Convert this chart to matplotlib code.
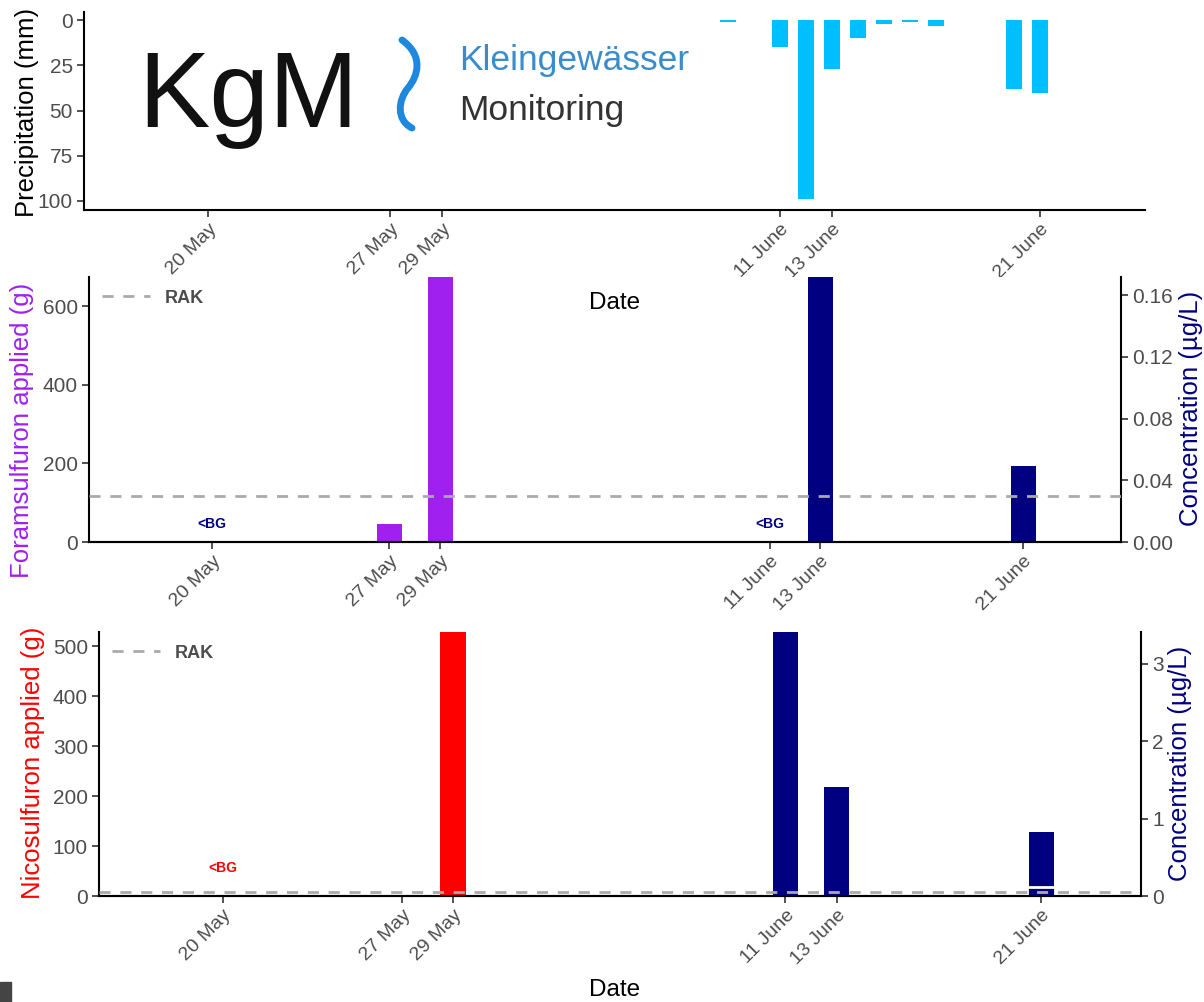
import numpy as np
import matplotlib
matplotlib.use('Agg')
import matplotlib.pyplot as plt
import matplotlib.dates as mdates
from matplotlib.lines import Line2D
from matplotlib.path import Path
from matplotlib.patches import PathPatch, Rectangle

plt.rcParams['font.family'] = ['Liberation Sans', 'DejaVu Sans']

# precipitation (mm)
precip_dates = ['2019-06-09', '2019-06-11', '2019-06-12', '2019-06-13', '2019-06-14',
                '2019-06-15', '2019-06-16', '2019-06-17', '2019-06-20', '2019-06-21']
precip_mm = [1, 15, 99, 27, 10, 2, 1, 3.5, 38, 40.5]

# sampling / application dates on the x axis
tick_dates = ['2019-05-20', '2019-05-27', '2019-05-29', '2019-06-11', '2019-06-13', '2019-06-21']
tick_labels = ['20 May', '27 May', '29 May', '11 June', '13 June', '21 June']

# foramsulfuron
foram_app_dates = ['2019-05-27', '2019-05-29']
foram_app_g = [45, 678]
foram_conc_dates = ['2019-05-20', '2019-06-11', '2019-06-13', '2019-06-21']
foram_conc = [0.0008, 0.0008, 0.172, 0.049]
foram_bg = [True, True, False, False]
foram_rak = 0.03

# nicosulfuron
nico_app_dates = ['2019-05-29']
nico_app_g = [530]
nico_conc_dates = ['2019-05-20', '2019-06-11', '2019-06-13', '2019-06-21']
nico_conc = [0.012, 3.42, 1.41, 0.83]
nico_bg = [True, False, False, False]
nico_conc2_dates = ['2019-06-21']
nico_conc2 = [0.11]
nico_rak = 0.055

grey = '#4D4D4D'
rak_col = '#AAAAAA'
navy = '#000080'
purple = '#A020F0'


def dn(d):
    return mdates.date2num(np.array(d, dtype='datetime64[D]'))


d0 = dn(['2019-05-20'])[0]
W, H = 1204, 1002


def box(l, r, t, b):
    return [l / W, 1 - b / H, (r - l) / W, (b - t) / H]


def style(ax, right=False):
    for s in ['top', 'right']:
        ax.spines[s].set_visible(False)
    for s in ['left', 'bottom']:
        ax.spines[s].set_linewidth(1.5)
    ax.tick_params(length=5, width=1.2, color='#333333', labelsize=15, labelcolor=grey, pad=3)


def style_twin(axb):
    axb.spines['top'].set_visible(False)
    axb.spines['left'].set_visible(False)
    axb.spines['right'].set_linewidth(1.5)
    axb.spines['bottom'].set_linewidth(1.5)
    axb.tick_params(length=5, width=1.2, color='#333333', labelsize=15, labelcolor=grey, pad=3)


def date_axis(ax, lo, hi):
    ax.set_xlim(d0 - lo, d0 + hi)
    ax.set_xticks(dn(tick_dates))
    ax.set_xticklabels(tick_labels, rotation=45, ha='right', rotation_mode='anchor',
                       fontsize=14, color=grey)


def rak_legend(ax):
    leg = ax.legend([Line2D([], [], color=rak_col, lw=2, ls=(0, (4, 3.5)))], ['RAK'],
                    loc='upper left', bbox_to_anchor=(0.0, 1.0), frameon=False,
                    handlelength=2.7, prop={'weight': 'bold', 'size': 13}, borderaxespad=0.3)
    for t in leg.get_texts():
        t.set_color(grey)


fig = plt.figure(figsize=(12.04, 10.02), dpi=100)

# ---- precipitation panel
ax1 = fig.add_axes(box(84, 1145, 12, 210))
ax1.bar(dn(precip_dates), precip_mm, width=0.58, color='#00BFFF')
ax1.set_ylim(105, -4.5)
ax1.set_yticks([0, 25, 50, 75, 100])
style(ax1)
date_axis(ax1, 4.77, 36.04)
fig.text(27 / W, 1 - 112 / H, 'Precipitation (mm)', rotation=90, fontsize=18.5,
         ha='center', va='center')
fig.text(615 / W, 1 - 303 / H, 'Date', fontsize=17.5, ha='center', va='center')

# logo
fig.text(138 / W, 1 - 127 / H, 'KgM', fontsize=77, ha='left', va='baseline', color='#111111')
fig.text(459 / W, 1 - 70 / H, 'Kleingewässer', fontsize=25.5, ha='left', va='baseline',
         color='#3A8CCB')
fig.text(459 / W, 1 - 120 / H, 'Monitoring', fontsize=25.5, ha='left', va='baseline',
         color='#333333')
pts = [(402, 40), (424, 56), (418, 76), (408, 88), (398, 100), (396, 120), (412, 128)]
codes = [Path.MOVETO] + [Path.CURVE4] * 6
verts = [(x / W, 1 - y / H) for x, y in pts]
fig.patches.append(PathPatch(Path(verts, codes), transform=fig.transFigure, fill=False,
                             lw=5, edgecolor='#1E88DF', capstyle='round'))

# ---- foramsulfuron panel
ax2 = fig.add_axes(box(89, 1121, 277, 542))
ax2b = ax2.twinx()
ax2.bar(dn(foram_app_dates), foram_app_g, width=0.98, color=purple, zorder=2)
ax2b.bar(dn(foram_conc_dates), foram_conc, width=0.98, color=navy, zorder=2)
ax2b.axhline(foram_rak, color=rak_col, lw=2, ls=(0, (4, 3.5)), zorder=3)
for d, bg in zip(foram_conc_dates, foram_bg):
    if bg:
        ax2b.text(dn([d])[0], 0.007, '<BG', color=navy, fontsize=10, fontweight='bold',
                  ha='center', va='bottom')
ax2.set_ylim(0, 675)
ax2.set_yticks([0, 200, 400, 600])
ax2b.set_ylim(0, 0.1717)
ax2b.set_yticks([0, 0.04, 0.08, 0.12, 0.16])
ax2b.set_yticklabels(['0.00', '0.04', '0.08', '0.12', '0.16'])
style(ax2)
style_twin(ax2b)
date_axis(ax2, 4.85, 35.86)
ax2b.set_xlim(ax2.get_xlim())
rak_legend(ax2)
fig.text(22 / W, 1 - 430 / H, 'Foramsulfuron applied (g)', rotation=90, fontsize=18.5,
         ha='center', va='center', color=purple)
fig.text(1191 / W, 1 - 408 / H, 'Concentration (µg/L)', rotation=90, fontsize=18.5,
         ha='center', va='center', color=navy)

# ---- nicosulfuron panel
ax3 = fig.add_axes(box(99, 1141, 632, 896))
ax3b = ax3.twinx()
ax3.bar(dn(nico_app_dates), nico_app_g, width=0.98, color='#FF0000', zorder=2)
ax3b.bar(dn(nico_conc_dates), nico_conc, width=0.98, color=navy, zorder=2)
# second sample on 21 June: white outline leaves a thin gap in the bar
ax3b.bar(dn(nico_conc2_dates), nico_conc2, width=1.09, color=navy, edgecolor='white',
         lw=2, zorder=2)
ax3b.axhline(nico_rak, color=rak_col, lw=2, ls=(0, (4, 3.5)), zorder=3)
for d, bg in zip(nico_conc_dates, nico_bg):
    if bg:
        ax3b.text(dn([d])[0], 0.27, '<BG', color='#FF0000', fontsize=10, fontweight='bold',
                  ha='center', va='bottom')
ax3.set_ylim(0, 528)
ax3.set_yticks([0, 100, 200, 300, 400, 500])
ax3b.set_ylim(0, 3.41)
ax3b.set_yticks([0, 1, 2, 3])
style(ax3)
style_twin(ax3b)
date_axis(ax3, 4.84, 35.9)
ax3b.set_xlim(ax3.get_xlim())
rak_legend(ax3)
fig.text(33 / W, 1 - 763 / H, 'Nicosulfuron applied (g)', rotation=90, fontsize=18.5,
         ha='center', va='center', color='#FF0000')
fig.text(1180 / W, 1 - 763 / H, 'Concentration (µg/L)', rotation=90, fontsize=18.5,
         ha='center', va='center', color=navy)
fig.text(615 / W, 1 - 990 / H, 'Date', fontsize=17.5, ha='center', va='center')

# little dark corner mark
fig.patches.append(Rectangle((0, 0), 11 / W, 20 / H, transform=fig.transFigure,
                             color='#444444'))

fig.savefig('out.png', dpi=100)
